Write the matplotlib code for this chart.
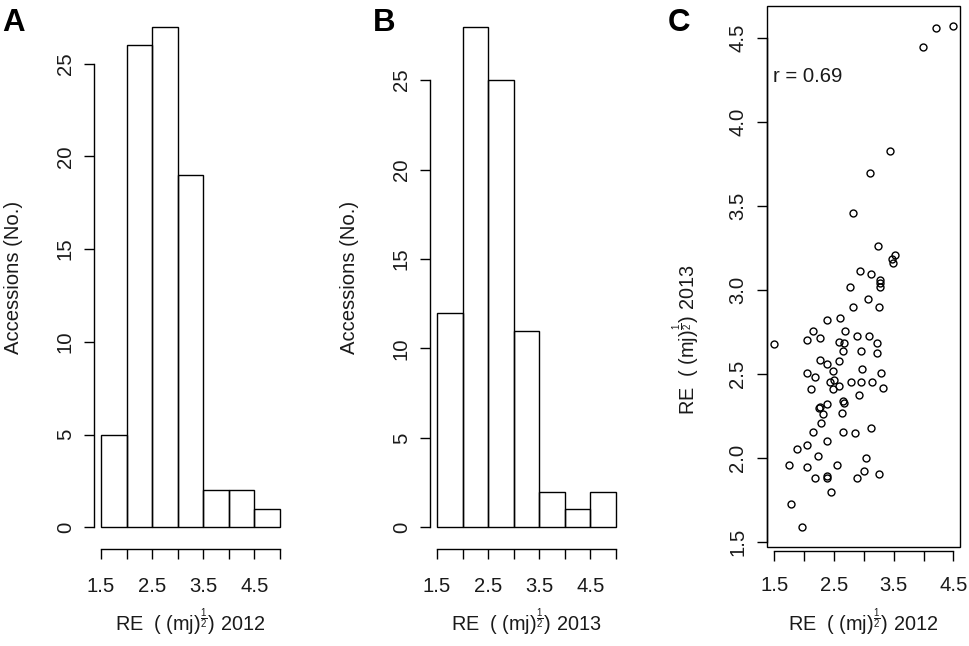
import matplotlib
matplotlib.use("Agg")
import matplotlib.pyplot as plt
from matplotlib.patches import Rectangle

plt.rcParams['font.family'] = ['Liberation Sans', 'DejaVu Sans']
plt.rcParams['mathtext.fontset'] = 'custom'
plt.rcParams['mathtext.rm'] = 'Liberation Sans'
plt.rcParams['mathtext.it'] = 'Liberation Sans:italic'
plt.rcParams['mathtext.bf'] = 'Liberation Sans:bold'

# ---------------- data ----------------
bin_edges = [1.5, 2.0, 2.5, 3.0, 3.5, 4.0, 4.5, 5.0]
counts_2012 = [5, 26, 27, 19, 2, 2, 1]
counts_2013 = [12, 28, 25, 11, 2, 1, 2]
hist_yticks = [0, 5, 10, 15, 20, 25]
x_ticks = [1.5, 2.0, 2.5, 3.0, 3.5, 4.0, 4.5, 5.0]
x_ticklabels = ['1.5', '', '2.5', '', '3.5', '', '4.5', '']
sc_xticks = [1.5, 2.0, 2.5, 3.0, 3.5, 4.0, 4.5]
sc_xticklabels = ['1.5', '', '2.5', '', '3.5', '', '4.5']
sc_yticks = [1.5, 2.0, 2.5, 3.0, 3.5, 4.0, 4.5]
sc_yticklabels = ['1.5', '2.0', '2.5', '3.0', '3.5', '4.0', '4.5']

re_2012 = [3.997, 4.205, 4.490, 3.439, 3.104, 2.819,
           3.243, 3.523, 3.467, 3.494, 2.936, 3.121, 3.271, 3.271, 3.271, 3.065, 3.255,
           1.500, 2.764, 2.814, 2.388, 2.601, 2.690, 2.144, 2.043, 2.266, 2.881,
           3.092, 2.589, 2.668, 3.226, 2.948, 2.646, 3.226, 2.266, 2.388, 2.579,
           2.479, 2.043, 2.177, 2.970, 3.283, 2.433, 2.500, 2.790, 2.948, 3.132,
           2.579, 2.479, 2.115, 3.317, 2.914, 2.646, 2.668, 2.244, 2.266, 2.388,
           2.321, 2.635, 2.278, 3.126, 2.144, 2.656, 2.847, 2.388, 2.053, 1.885,
           2.232, 3.037, 1.741, 2.043, 2.546, 3.003, 2.177, 2.388, 2.388, 2.881,
           3.250, 2.455, 1.775, 1.964]
re_2013 = [4.446, 4.556, 4.570, 3.826, 3.693, 3.455,
           3.260, 3.207, 3.181, 3.157, 3.113, 3.093, 3.058, 3.038, 3.014, 2.943, 2.895,
           2.677, 3.016, 2.899, 2.820, 2.830, 2.754, 2.754, 2.701, 2.711, 2.724,
           2.724, 2.690, 2.681, 2.681, 2.635, 2.635, 2.625, 2.582, 2.558, 2.577,
           2.518, 2.506, 2.482, 2.526, 2.502, 2.452, 2.462, 2.451, 2.451, 2.451,
           2.427, 2.411, 2.407, 2.417, 2.373, 2.339, 2.327, 2.298, 2.304, 2.318,
           2.260, 2.264, 2.208, 2.177, 2.153, 2.153, 2.145, 2.098, 2.077, 2.054,
           2.012, 2.000, 1.957, 1.946, 1.957, 1.923, 1.879, 1.891, 1.879, 1.879,
           1.903, 1.796, 1.724, 1.586]
r_text = 'r = 0.69'

xlabel_2012 = r'RE  ( (mj)$^{\frac{1}{2}}$) 2012'
xlabel_2013 = r'RE  ( (mj)$^{\frac{1}{2}}$) 2013'
ylabel_hist = 'Accessions (No.)'

# ---------------- layout ----------------
W, H = 970, 646
fig = plt.figure(figsize=(W / 100, H / 100), dpi=100)
TXT = '#1a1a1a'
FS = 14.6
FSX = 14.3
LW = 1.0


def rect(l, t, r, b):
    return [l / W, 1 - b / H, (r - l) / W, (b - t) / H]


def hist_panel(pos, counts):
    ax = fig.add_axes(pos)
    ax.bar(bin_edges[:-1], counts, width=0.5, align='edge', fill=False,
           edgecolor='black', linewidth=LW)
    span = bin_edges[-1] - bin_edges[0]
    top = max(counts)
    ax.set_xlim(bin_edges[0] - 0.04 * span, bin_edges[-1] + 0.04 * span)
    ax.set_ylim(-0.04 * top, 1.04 * top)
    for s in ('top', 'right'):
        ax.spines[s].set_visible(False)
    ax.spines['left'].set_bounds(hist_yticks[0], hist_yticks[-1])
    ax.spines['bottom'].set_bounds(x_ticks[0], x_ticks[-1])
    ax.spines['bottom'].set_position(('outward', 1.5))
    for s in ('left', 'bottom'):
        ax.spines[s].set_linewidth(LW)
    ax.set_xticks(x_ticks)
    ax.set_xticklabels(x_ticklabels)
    ax.set_yticks(hist_yticks)
    ax.set_yticklabels([str(v) for v in hist_yticks])
    ax.tick_params(axis='both', direction='out', length=7.2, width=LW,
                   labelsize=FS, labelcolor=TXT)
    ax.tick_params(axis='x', pad=12.5)
    ax.tick_params(axis='y', pad=6.5)
    plt.setp(ax.get_yticklabels(), rotation=90, va='center', ha='right')
    ax.patch.set_visible(False)
    return ax


axA = hist_panel(rect(93.8, 6.5, 287.2, 547.3), counts_2012)
axB = hist_panel(rect(429.8, 6.5, 623.2, 547.3), counts_2013)

# scatter
axC = fig.add_axes(rect(767.1, 5.9, 959.9, 547.2))
axC.plot(re_2012, re_2013, linestyle='none', marker='o', markersize=5.0,
         markerfacecolor='none', markeredgecolor='black', markeredgewidth=1.0)
xr = max(re_2012) - min(re_2012)
yr = max(re_2013) - min(re_2013)
axC.set_xlim(min(re_2012) - 0.04 * xr, max(re_2012) + 0.04 * xr)
axC.set_ylim(min(re_2013) - 0.04 * yr, max(re_2013) + 0.04 * yr)
axC.add_patch(Rectangle((0, 0), 1, 1, transform=axC.transAxes, fill=False,
                        linewidth=LW, edgecolor='black', clip_on=False))
for s in ('top', 'right'):
    axC.spines[s].set_visible(False)
axC.spines['left'].set_bounds(sc_yticks[0], sc_yticks[-1])
axC.spines['bottom'].set_bounds(sc_xticks[0], sc_xticks[-1])
axC.spines['bottom'].set_position(('outward', 3))
for s in ('left', 'bottom'):
    axC.spines[s].set_linewidth(LW)
axC.set_xticks(sc_xticks)
axC.set_xticklabels(sc_xticklabels)
axC.set_yticks(sc_yticks)
axC.set_yticklabels(sc_yticklabels)
axC.tick_params(axis='both', direction='out', length=7.2, width=LW,
                labelsize=FS, labelcolor=TXT)
axC.tick_params(axis='x', pad=10.5)
axC.tick_params(axis='y', pad=7)
plt.setp(axC.get_yticklabels(), rotation=90, va='center', ha='right')
axC.text(2.056, 4.238, r_text, ha='center', va='baseline', fontsize=FS, color=TXT)

# axis labels
fig.text(190.5 / W, 1 - 631 / H, xlabel_2012, ha='center', va='baseline', fontsize=FSX, color=TXT)
fig.text(526.5 / W, 1 - 631 / H, xlabel_2013, ha='center', va='baseline', fontsize=FSX, color=TXT)
fig.text(863.5 / W, 1 - 631 / H, xlabel_2012, ha='center', va='baseline', fontsize=FSX, color=TXT)
fig.text(14 / W, 1 - 277 / H, ylabel_hist, rotation=90, ha='center', va='center', fontsize=FS, color=TXT)
fig.text(350 / W, 1 - 277 / H, ylabel_hist, rotation=90, ha='center', va='center', fontsize=FS, color=TXT)
fig.text(686 / W, 1 - 340 / H, xlabel_2013, rotation=90, ha='center', va='center', fontsize=FSX, color=TXT)

# panel letters
for lab, x in (('A', 2.7), ('B', 373), ('C', 668)):
    fig.text(x / W, 1 - 30.7 / H, lab, ha='left', va='baseline', fontsize=22.5,
             fontweight='bold', color='black')

fig.savefig('out.png', dpi=100, facecolor='white')
